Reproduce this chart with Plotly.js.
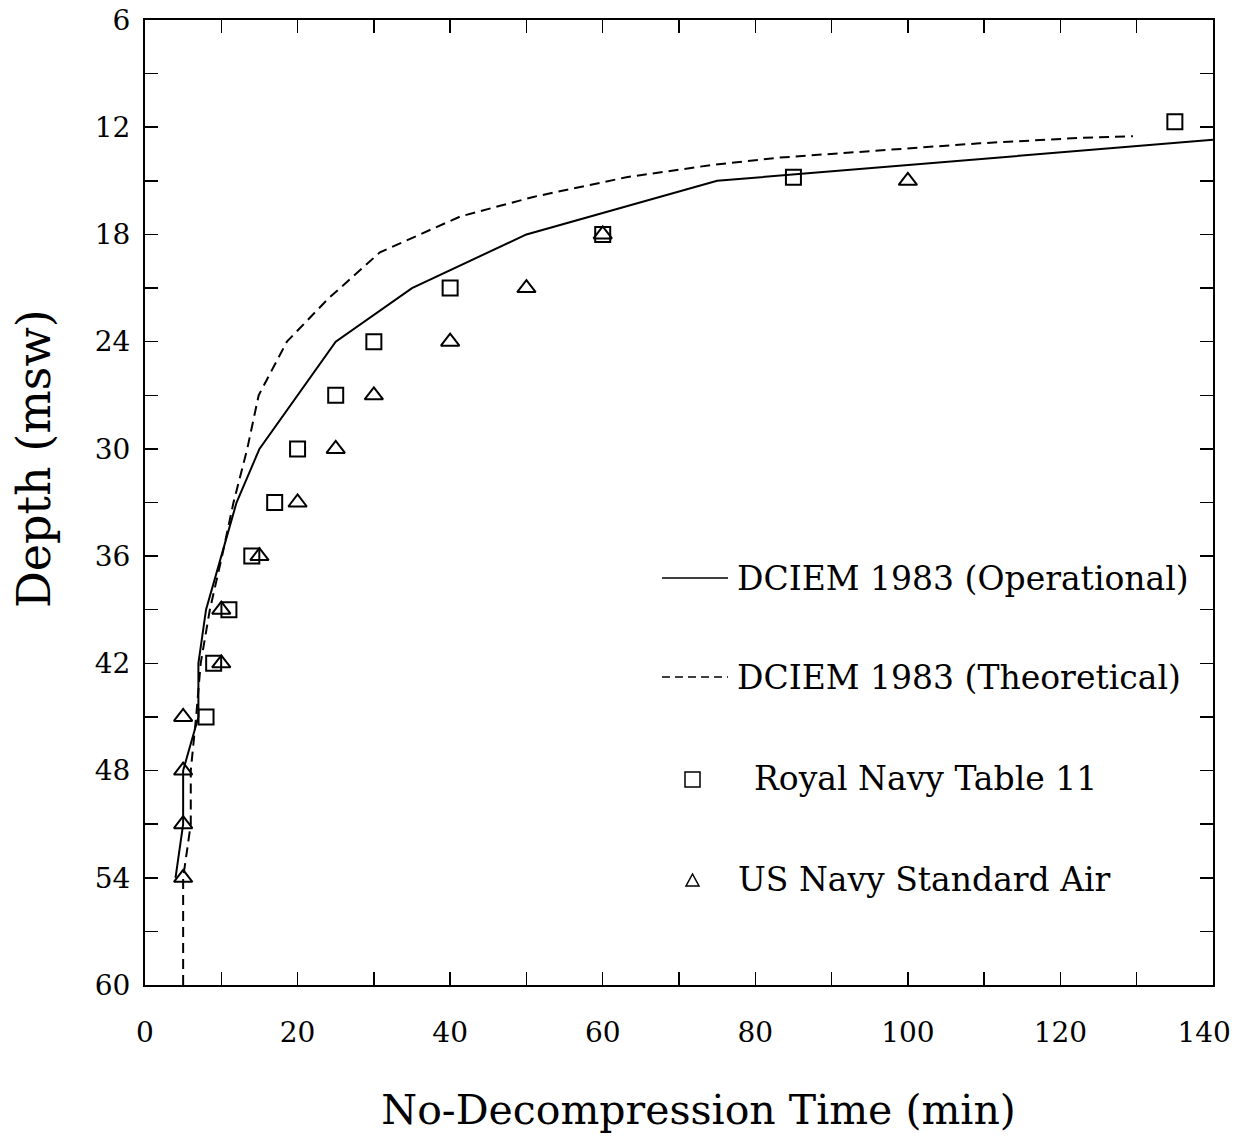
<!DOCTYPE html>
<html>
<head>
<meta charset="utf-8">
<script src="https://cdn.plot.ly/plotly-3.0.1.min.js"></script>
<style>
  html, body { margin: 0; padding: 0; background: #fff; }
  #chart { width: 1252px; height: 1138px; }
</style>
</head>
<body>
<div id="chart"></div>
<script>
// ---- Data ----
const operationalTime  = [4, 5, 5, 7, 7, 8, 10, 12, 15, 20, 25, 35, 50, 75, 140];
const operationalDepth = [54, 51, 48, 45, 42, 39, 36, 33, 30, 27, 24, 21, 18, 15, 12.7];

const theoreticalTime  = [5, 5, 6, 6, 6.7, 7.3, 8.5, 10.1, 11.6, 13.4, 14.9, 18.6, 24, 30.8, 41.3, 50.9, 63.1, 74.5, 83.2, 96.3, 109.4, 122.5, 129.5];
const theoreticalDepth = [60, 54, 51, 48, 45, 42, 39, 36, 33, 30, 27, 24, 21.6, 19, 17, 15.9, 14.8, 14.1, 13.7, 13.3, 12.9, 12.6, 12.5];

const royalNavyTime  = [135, 85, 60, 40, 30, 25, 20, 17, 14, 11, 9, 8];
const royalNavyDepth = [11.7, 14.8, 18, 21, 24, 27, 30, 33, 36, 39, 42, 45];

const usNavyTime  = [100, 60, 50, 40, 30, 25, 20, 15, 10, 10, 5, 5, 5, 5];
const usNavyDepth = [15, 18, 21, 24, 27, 30, 33, 36, 39, 42, 45, 48, 51, 54];

const NB = '\u00A0', ZW = '\u200B';
const xTickVals = [0, 10, 20, 30, 40, 50, 60, 70, 80, 90, 100, 110, 120, 130, 140];
const xTickText = ['0', '', '20', '', '40', '', '60', '', '80', '', '100', '', '120', '', '140' + NB.repeat(2) + ZW];
const yTickVals = [6, 9, 12, 15, 18, 21, 24, 27, 30, 33, 36, 39, 42, 45, 48, 51, 54, 57, 60];
const yTickText = ['6', '', '12', '', '18', '', '24', '', '30', '', '36', '', '42', '', '48', '', '54', '', '60'];

const xTitle = ZW + NB.repeat(3) + 'No-Decompression Time (min)';
const yTitle = ZW + NB.repeat(6) + 'Depth (msw)';
const legendLabels = ['DCIEM 1983 (Operational)', 'DCIEM 1983 (Theoretical)', 'Royal Navy Table 11', 'US Navy Standard Air'];

// ---- Layout geometry ----
const W = 1252, H = 1138;
const L = 145, R = 39, T = 20, B = 153;
const PW = W - L - R, PH = H - T - B;
const px = x => (x - L) / PW;          // pixel -> paper x
const py = y => 1 - (y - T) / PH;      // pixel -> paper y

const FONT = 'DejaVu Serif, Liberation Serif, serif';

const traces = [
  {
    x: operationalTime, y: operationalDepth, type: 'scatter', mode: 'lines',
    line: { color: '#000', width: 2 }, hoverinfo: 'skip', showlegend: false
  },
  {
    x: theoreticalTime, y: theoreticalDepth, type: 'scatter', mode: 'lines',
    line: { color: '#000', width: 2, dash: '10px,6px' }, hoverinfo: 'skip', showlegend: false
  },
  {
    x: royalNavyTime, y: royalNavyDepth, type: 'scatter', mode: 'markers',
    marker: { symbol: 'square-open', size: 15, color: '#000', line: { width: 2, color: '#000' } },
    hoverinfo: 'skip', showlegend: false, cliponaxis: false
  },
  {
    x: usNavyTime, y: usNavyDepth, type: 'scatter', mode: 'markers',
    marker: { symbol: 'triangle-up-open', size: 16, color: '#000', line: { width: 2, color: '#000' } },
    hoverinfo: 'skip', showlegend: false, cliponaxis: false
  }
];

const legendY = [578, 677, 778, 879];
const legendX = [735, 735, 752, 736];

const annotations = legendLabels.map((t, i) => ({
  text: t, xref: 'paper', yref: 'paper', x: px(legendX[i]), y: py(legendY[i]),
  xanchor: 'left', yanchor: 'middle', showarrow: false,
  font: { family: FONT, size: 33, color: '#000' }
}));

const shapes = [
  { type: 'line', xref: 'paper', yref: 'paper', x0: px(662), x1: px(728), y0: py(legendY[0]), y1: py(legendY[0]),
    line: { color: '#000', width: 1.5 } },
  { type: 'line', xref: 'paper', yref: 'paper', x0: px(662), x1: px(728), y0: py(legendY[1]), y1: py(legendY[1]),
    line: { color: '#000', width: 1.5, dash: '8px,5px' } },
  { type: 'rect', xref: 'paper', yref: 'paper', x0: px(685), x1: px(700), y0: py(772), y1: py(787),
    line: { color: '#000', width: 1.5 }, fillcolor: 'rgba(0,0,0,0)' },
  { type: 'path', xref: 'paper', yref: 'paper',
    path: `M ${px(686)} ${py(886)} L ${px(699)} ${py(886)} L ${px(692.5)} ${py(874)} Z`,
    line: { color: '#000', width: 1.5 }, fillcolor: 'rgba(0,0,0,0)' }
];

const layout = {
  width: W, height: H,
  margin: { l: L, r: R, t: T, b: B, pad: 0 },
  paper_bgcolor: '#fff', plot_bgcolor: '#fff',
  showlegend: false,
  font: { family: FONT, color: '#000' },
  xaxis: {
    range: [0, 140], tickmode: 'array', tickvals: xTickVals, ticktext: xTickText,
    ticks: 'inside', ticklen: 13, tickwidth: 1.5, tickcolor: '#000',
    showline: true, linewidth: 2, linecolor: '#000', mirror: 'allticks',
    showgrid: false, zeroline: false, automargin: false,
    ticklabeloverflow: 'allow',
    tickfont: { family: FONT, size: 28, color: '#000' },
    ticklabelstandoff: 21,
    title: { text: xTitle, font: { family: FONT, size: 41, color: '#000' }, standoff: 48 }
  },
  yaxis: {
    range: [60, 6], tickmode: 'array', tickvals: yTickVals, ticktext: yTickText,
    ticks: 'inside', ticklen: 13, tickwidth: 1.5, tickcolor: '#000',
    showline: true, linewidth: 2, linecolor: '#000', mirror: 'allticks',
    showgrid: false, zeroline: false, automargin: false,
    tickfont: { family: FONT, size: 28, color: '#000' },
    ticklabelstandoff: 7,
    title: { text: yTitle, font: { family: FONT, size: 46, color: '#000' }, standoff: 30 }
  },
  annotations: annotations,
  shapes: shapes
};

Plotly.newPlot('chart', traces, layout, { staticPlot: true, displayModeBar: false });
</script>
</body>
</html>
